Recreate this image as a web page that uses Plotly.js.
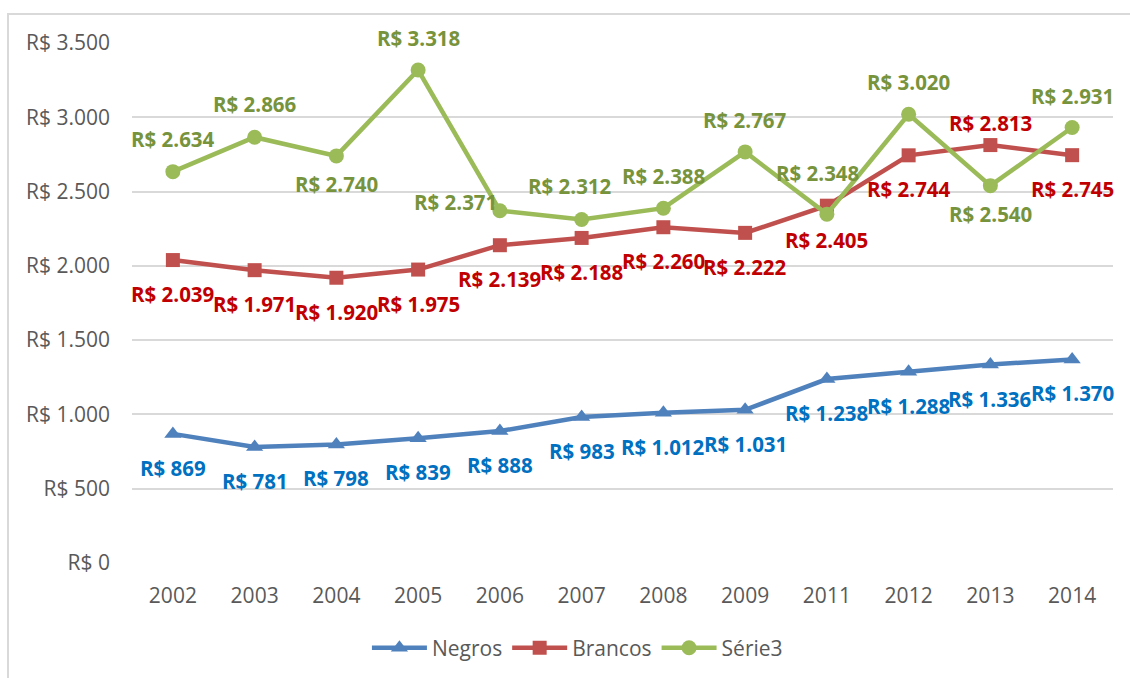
<!DOCTYPE html>
<html>
<head>
<meta charset="utf-8">
<script src="https://cdn.plot.ly/plotly-3.0.1.min.js"></script>
<style>
  html, body { margin: 0; padding: 0; background: #ffffff; overflow: hidden; }
  #wrap { position: relative; width: 1130px; height: 678px; }
  #frame { position: absolute; left: 7px; top: 13px; width: 1140px; height: 700px;
           border-left: 2px solid #d9d9d9; border-top: 2px solid #d9d9d9; box-sizing: border-box; }
  #chart { position: absolute; left: 0; top: 0; width: 1130px; height: 678px; }
</style>
</head>
<body>
<div id="wrap">
  <div id="frame"></div>
  <div id="chart"></div>
</div>
<script>
// ---- data ----
const categories = ['2002','2003','2004','2005','2006','2007','2008','2009','2011','2012','2013','2014'];
const negros  = [869, 781, 798, 839, 888, 983, 1012, 1031, 1238, 1288, 1336, 1370];
const brancos = [2039, 1971, 1920, 1975, 2139, 2188, 2260, 2222, 2405, 2744, 2813, 2745];
const serie3  = [2634, 2866, 2740, 3318, 2371, 2312, 2388, 2767, 2348, 3020, 2540, 2931];
const yTickVals = [0, 500, 1000, 1500, 2000, 2500, 3000, 3500];

// ---- label placement (pixel offsets of label centre from point; style only) ----
const negrosLabelOff  = [[0,34],[0,34],[0,34],[0,34],[0,34],[0,34],[0,34],[0,34],[0,34],[0,34],[0,34],[0,34]];
const brancosLabelOff = [[0,34],[0,34],[0,34],[0,34],[0,34],[0,34],[0,34],[0,34],[0,34],[0,34],[0,-22],[0,34]];
const serie3LabelOff  = [[0,-33],[0,-33],[0,28],[0,-32],[-44,-9],[-12,-34],[0,-32],[0,-32],[-9,-41],[0,-32],[0,28],[0,-32]];

function fmt(v) {
  return 'R$ ' + String(v).replace(/\B(?=(\d{3})+(?!\d))/g, '.');
}

const FONT = 'Open Sans, Noto Sans, sans-serif';
const series = [
  {name: 'Negros',  y: negros,  line: '#4F81BD', label: '#0070C0', symbol: 'triangle-up', size: 15, off: negrosLabelOff},
  {name: 'Brancos', y: brancos, line: '#C0504D', label: '#C00000', symbol: 'square',      size: 14, off: brancosLabelOff},
  {name: 'Série3',  y: serie3,  line: '#9BBB59', label: '#77933C', symbol: 'circle',      size: 15, off: serie3LabelOff}
];

const traces = series.map(s => ({
  type: 'scatter',
  mode: 'lines+markers',
  name: s.name,
  x: categories,
  y: s.y,
  line: {color: s.line, width: 4.5},
  marker: {color: s.line, symbol: s.symbol, size: s.size, line: {width: 0}},
  hoverinfo: 'skip'
}));

const annotations = [];
series.forEach(s => {
  s.y.forEach((v, i) => {
    annotations.push({
      x: i, y: v, xref: 'x', yref: 'y',
      text: fmt(v), showarrow: false,
      xanchor: 'center', yanchor: 'middle',
      xshift: s.off[i][0], yshift: -s.off[i][1],
      font: {family: FONT, size: 20.5, color: s.label, weight: 'bold'}
    });
  });
});

const layout = {
  width: 1130, height: 678,
  margin: {l: 132, r: 17, t: 43, b: 115},
  paper_bgcolor: 'rgba(0,0,0,0)',
  plot_bgcolor: 'rgba(0,0,0,0)',
  separators: ',.',
  showlegend: true,
  legend: {
    orientation: 'h', xref: 'container', x: 0.511, xanchor: 'center',
    yref: 'container', y: 0.044, yanchor: 'middle',
    font: {family: FONT, size: 21, color: '#595959'},
    itemwidth: 55, traceorder: 'normal', bgcolor: 'rgba(0,0,0,0)'
  },
  xaxis: {
    type: 'category', range: [-0.5, 11.5], automargin: false,
    showgrid: false, zeroline: false, showline: false, ticks: '',
    tickfont: {family: FONT, size: 21, color: '#595959'},
    ticklabelstandoff: 18, fixedrange: true
  },
  yaxis: {
    range: [0, 3500], tickvals: yTickVals, ticktext: yTickVals.map(fmt), automargin: false,
    showgrid: true, gridcolor: '#d9d9d9', gridwidth: 2,
    zeroline: false, showline: false, ticks: '',
    tickfont: {family: FONT, size: 21, color: '#595959'},
    ticklabelstandoff: 21, fixedrange: true
  },
  annotations: annotations
};

Plotly.newPlot('chart', traces, layout, {displayModeBar: false, staticPlot: true});
</script>
</body>
</html>
